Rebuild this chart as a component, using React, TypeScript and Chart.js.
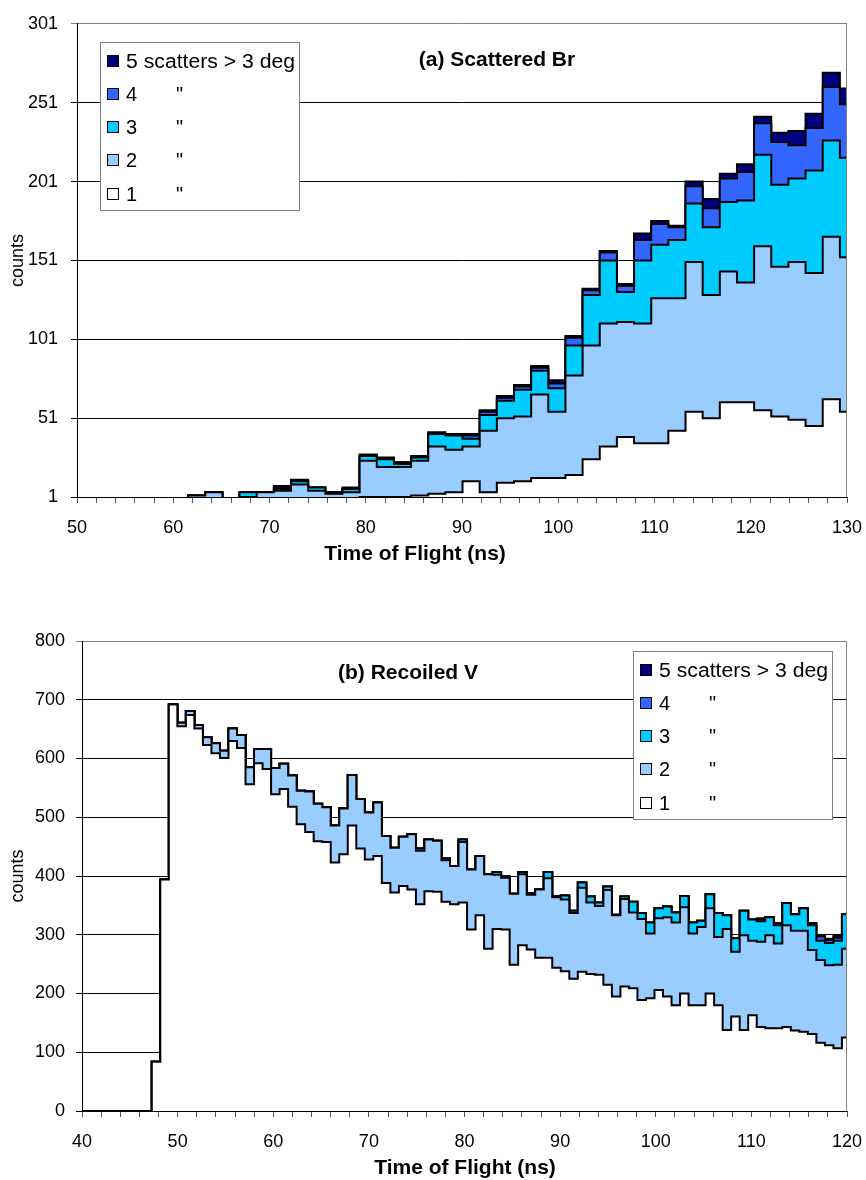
import React, { useEffect, useRef } from 'react';
import { Chart, registerables } from 'chart.js';

Chart.register(...registerables);

const FONT = '"Liberation Sans", Arial, Helvetica, sans-serif';
Chart.defaults.font.family = FONT;
Chart.defaults.color = '#000';

// ---------- Panel (a): Scattered Br (histogram bins, ns) ----------
const binStartA = 49.07;
const binWidthA = 1.782;
const brScat1 = [
  0, 0, 0, 0, 0, 0, 0, 0, 0, 0,
  0, 0, 0, 0, 0, 0, 0, 1, 1, 1,
  2, 3, 4, 11, 4, 10, 11, 13, 13, 15,
  25, 33, 39, 35, 35, 43, 55, 51, 61, 61,
  56, 52, 50, 46, 63, 55,
];
const brScat2 = [
  0, 0, 0, 0, 0, 0, 0, 2, 4, 0,
  1, 4, 5, 9, 5, 3, 4, 23, 19, 19,
  22, 30, 27, 22, 39, 41, 41, 53, 42, 63,
  72, 78, 73, 76, 92, 84, 95, 78, 83, 76,
  104, 95, 100, 97, 103, 98,
];
const brScat3 = [
  0, 0, 0, 0, 0, 0, 0, 0, 0, 0,
  3, 0, 1, 2, 2, 1, 2, 3, 5, 2,
  2, 8, 9, 5, 10, 11, 17, 15, 15, 19,
  32, 40, 19, 40, 34, 37, 37, 43, 44, 52,
  58, 52, 53, 65, 61, 63,
];
const brScat4 = [
  0, 0, 0, 0, 0, 0, 0, 0, 0, 0,
  0, 0, 1, 0, 0, 0, 0, 0, 0, 1,
  0, 0, 0, 2, 2, 2, 2, 2, 3, 5,
  3, 5, 4, 13, 13, 8, 11, 12, 15, 18,
  20, 27, 21, 27, 34, 34,
];
const brScat5 = [
  0, 0, 0, 0, 0, 0, 0, 0, 0, 0,
  0, 0, 1, 1, 0, 0, 1, 1, 1, 0,
  1, 1, 1, 1, 1, 1, 1, 1, 2, 1,
  1, 1, 1, 4, 2, 1, 3, 6, 3, 5,
  4, 6, 9, 9, 9, 10,
];

// ---------- Panel (b): Recoiled V (histogram bins, ns) ----------
const binStartB = 39.28;
const binWidthB = 0.891;
const vScat1 = [
  0, 0, 0, 0, 0, 0, 0, 0, 0, 84,
  394, 692, 655, 674, 651, 623, 609, 601, 630, 618,
  556, 592, 582, 539, 548, 518, 488, 475, 459, 458,
  423, 437, 486, 447, 428, 434, 388, 372, 383, 377,
  352, 374, 373, 356, 352, 355, 309, 333, 276, 310,
  309, 249, 282, 275, 261, 261, 244, 238, 225, 237,
  233, 232, 215, 195, 212, 209, 189, 192, 206, 195,
  180, 200, 180, 180, 200, 180, 138, 161, 138, 163,
  143, 141, 141, 143, 137, 135, 131, 116, 112, 107,
  125,
];
const vScat2 = [
  0, 0, 0, 0, 0, 0, 0, 0, 0, 0,
  0, 0, 6, 7, 6, 13, 17, 12, 21, 22,
  29, 24, 34, 45, 43, 53, 57, 69, 64, 59,
  63, 78, 86, 84, 80, 91, 80, 76, 84, 94,
  91, 88, 87, 71, 65, 103, 102, 101, 127, 92,
  88, 121, 121, 93, 116, 135, 120, 122, 112, 143,
  122, 117, 161, 138, 149, 129, 138, 110, 122, 135,
  141, 147, 122, 133, 145, 116, 172, 110, 161, 127,
  145, 158, 144, 173, 170, 172, 143, 141, 136, 142,
  151,
];
const vScat3 = [
  0, 0, 0, 0, 0, 0, 0, 0, 0, 0,
  0, 0, 0, 0, 0, 0, 0, 0, 0, 0,
  0, 0, 0, 0, 0, 0, 0, 0, 0, 0,
  0, 0, 0, 0, 0, 0, 0, 0, 0, 0,
  4, 0, 0, 3, 0, 4, 0, 0, 0, 5,
  3, 0, 4, 3, 0, 11, 2, 7, 4, 9,
  10, 6, 6, 1, 4, 18, 10, 19, 17, 18,
  17, 19, 19, 11, 24, 41, 23, 23, 42, 36,
  35, 31, 31, 38, 28, 38, 42, 33, 38, 41,
  59,
];
const vScat4 = [
  0, 0, 0, 0, 0, 0, 0, 0, 0, 0,
  0, 0, 0, 0, 0, 0, 0, 0, 0, 0,
  0, 0, 0, 0, 0, 0, 0, 0, 0, 0,
  0, 0, 0, 0, 0, 0, 0, 0, 0, 0,
  0, 0, 0, 0, 0, 0, 0, 0, 0, 0,
  0, 0, 0, 0, 0, 0, 0, 0, 0, 0,
  0, 0, 0, 0, 0, 0, 0, 0, 0, 0,
  0, 0, 0, 0, 0, 0, 0, 0, 0, 0,
  3, 0, 3, 0, 0, 0, 3, 7, 5, 5,
  0,
];
const vScat5 = [
  0, 0, 0, 0, 0, 0, 0, 0, 0, 0,
  0, 0, 0, 0, 0, 0, 0, 0, 0, 0,
  0, 0, 0, 0, 0, 0, 0, 0, 0, 0,
  0, 0, 0, 0, 0, 0, 0, 0, 0, 0,
  0, 0, 0, 0, 0, 0, 0, 0, 0, 0,
  0, 0, 0, 0, 0, 0, 0, 0, 0, 0,
  0, 0, 0, 0, 0, 0, 0, 0, 0, 0,
  0, 0, 0, 0, 0, 0, 0, 0, 0, 0,
  2, 0, 1, 0, 0, 0, 1, 2, 2, 3,
  0,
];

const seriesColors = ['#FFFFFF', '#99CCFF', '#00CCFF', '#3366FF', '#000080'];
const legendNumbers = ['5', '4', '3', '2', '1'];
const legendFirstText = '5 scatters > 3 deg';
const xTitleText = 'Time of Flight (ns)';
const yTitleText = 'counts';

type PanelCfg = {
  series: number[][];
  binStart: number;
  binWidth: number;
  height: number;
  padTop: number;
  padBottom: number;
  yWidth: number;
  yPad: number;
  xMin: number;
  xMax: number;
  yMin: number;
  yMax: number;
  yStep: number;
  title: string;
  titleX: number;
  titleY: number;
  xTitleX: number;
  xTitleY: number;
  legendX: number;
  legendY: number;
};

const panelA: PanelCfg = {
  series: [brScat1, brScat2, brScat3, brScat4, brScat5],
  binStart: binStartA,
  binWidth: binWidthA,
  height: 590,
  padTop: 21,
  padBottom: 30,
  yWidth: 77,
  yPad: 13,
  xMin: 50,
  xMax: 130,
  yMin: 1,
  yMax: 301,
  yStep: 50,
  title: '(a) Scattered Br',
  titleX: 497,
  titleY: 60,
  xTitleX: 415,
  xTitleY: 554,
  legendX: 100,
  legendY: 42,
};

const panelB: PanelCfg = {
  series: [vScat1, vScat2, vScat3, vScat4, vScat5],
  binStart: binStartB,
  binWidth: binWidthB,
  height: 590,
  padTop: 51,
  padBottom: 6,
  yWidth: 82,
  yPad: 11,
  xMin: 40,
  xMax: 120,
  yMin: 0,
  yMax: 800,
  yStep: 100,
  title: '(b) Recoiled V',
  titleX: 408,
  titleY: 83,
  xTitleX: 465,
  xTitleY: 578,
  legendX: 633,
  legendY: 61,
};

function makeOverlay(cfg: PanelCfg) {
  return {
    id: 'overlay' + cfg.title,
    afterDraw(chart: any) {
      const ctx = chart.ctx as CanvasRenderingContext2D;
      const { right, top, bottom } = chart.chartArea;
      ctx.save();
      // plot-area right border
      ctx.strokeStyle = '#808080';
      ctx.lineWidth = 1;
      ctx.beginPath();
      ctx.moveTo(Math.round(right) - 0.5, top);
      ctx.lineTo(Math.round(right) - 0.5, bottom);
      ctx.stroke();

      // chart title
      ctx.fillStyle = '#000';
      ctx.font = `bold 21px ${FONT}`;
      ctx.textAlign = 'center';
      ctx.textBaseline = 'middle';
      ctx.fillText(cfg.title, cfg.titleX, cfg.titleY);
      // x axis title
      ctx.fillText(xTitleText, cfg.xTitleX, cfg.xTitleY);

      // legend
      const lx = cfg.legendX;
      const ly = cfg.legendY;
      const lw = 199;
      const lh = 168;
      ctx.fillStyle = '#fff';
      ctx.fillRect(lx, ly, lw, lh);
      ctx.strokeStyle = '#808080';
      ctx.lineWidth = 1;
      ctx.strokeRect(lx + 0.5, ly + 0.5, lw, lh);
      ctx.font = `20px ${FONT}`;
      ctx.textAlign = 'left';
      ctx.textBaseline = 'middle';
      for (let i = 0; i < 5; i++) {
        const k = 4 - i;
        const cy = Math.round(ly + 18.5 + i * 33.3);
        ctx.fillStyle = seriesColors[k];
        ctx.fillRect(lx + 7.5, cy - 5.5, 11, 11);
        ctx.strokeStyle = '#000';
        ctx.strokeRect(lx + 7.5, cy - 5.5, 11, 11);
        ctx.fillStyle = '#000';
        if (i === 0) {
          ctx.save();
          ctx.translate(lx + 26, cy + 1);
          ctx.scale(1.06, 1);
          ctx.fillText(legendFirstText, 0, 0);
          ctx.restore();
        } else {
          ctx.fillText(legendNumbers[i], lx + 26, cy + 1);
          ctx.fillText('"', lx + 76, cy + 1);
        }
      }
      ctx.restore();
    },
  };
}

function makeDatasets(cfg: PanelCfg) {
  return cfg.series.map((vals, k) => ({
    label: legendNumbers[4 - k],
    data: vals.map((v, i) => ({ x: cfg.binStart + cfg.binWidth * (i + 0.5), y: v })),
    backgroundColor: seriesColors[k],
    borderColor: '#000',
    borderWidth: 2,
    fill: k === 0 ? 'origin' : '-1',
    stepped: 'middle' as const,
    pointRadius: 0,
    pointHoverRadius: 0,
    tension: 0,
  }));
}

function Panel({ cfg }: { cfg: PanelCfg }) {
  const ref = useRef<HTMLCanvasElement | null>(null);
  useEffect(() => {
    if (!ref.current) return;
    const chart = new Chart(ref.current, {
      type: 'line',
      data: { datasets: makeDatasets(cfg) as any },
      options: {
        responsive: false,
        animation: false,
        events: [],
        layout: { padding: { left: 0, top: cfg.padTop, right: 19, bottom: cfg.padBottom } },
        plugins: {
          legend: { display: false },
          tooltip: { enabled: false },
          title: { display: false },
        },
        scales: {
          x: {
            type: 'linear',
            min: cfg.xMin,
            max: cfg.xMax,
            ticks: {
              stepSize: 2,
              autoSkip: false,
              maxTicksLimit: 100,
              maxRotation: 0,
              minRotation: 0,
              padding: 14,
              color: '#000',
              font: { size: 18 },
              callback: (v: any) => (Number(v) % 10 === 0 ? String(v) : ''),
            },
            grid: { drawOnChartArea: false, drawTicks: true, tickLength: 6, color: '#555' },
            border: { display: true, color: '#000', width: 1 },
            afterFit: (s: any) => {
              s.height = 63;
              s.paddingLeft = 0;
              s.paddingRight = 0;
            },
          },
          y: {
            type: 'linear',
            stacked: true,
            min: cfg.yMin,
            max: cfg.yMax,
            ticks: { stepSize: cfg.yStep, padding: cfg.yPad, color: '#000', font: { size: 18 } },
            grid: {
              drawTicks: true,
              tickLength: 6,
              color: (c: any) => (c.tick && c.tick.value === cfg.yMax ? '#808080' : '#000'),
            },
            border: { display: true, color: '#000', width: 1 },
            title: {
              display: true,
              text: yTitleText,
              color: '#000',
              font: { size: 18 },
              padding: { top: 7, bottom: 0 },
            },
            afterFit: (s: any) => {
              s.width = cfg.yWidth;
            },
          },
        },
      } as any,
      plugins: [makeOverlay(cfg)],
    });
    return () => chart.destroy();
  }, [cfg]);
  return (
    <canvas
      ref={ref}
      width={866}
      height={cfg.height}
      style={{ display: 'block', width: 866, height: cfg.height }}
    />
  );
}

export default function App() {
  return (
    <div style={{ position: 'absolute', left: 0, top: 0, width: 866, height: 1180, background: '#fff', overflow: 'hidden' }}>
      <Panel cfg={panelA} />
      <Panel cfg={panelB} />
    </div>
  );
}
